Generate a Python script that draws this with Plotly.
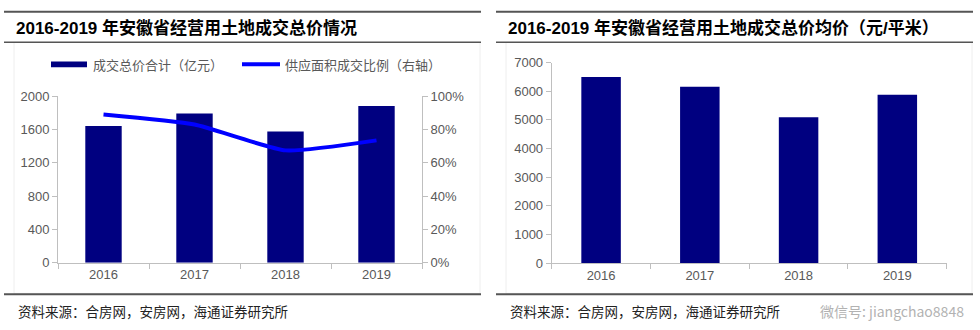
import plotly.graph_objects as go

years = ["2016", "2017", "2018", "2019"]
total_price = [1642, 1794, 1577, 1882]          # 成交总价合计（亿元）
supply_ratio = [0.89, 0.83, 0.675, 0.735]       # 供应面积成交比例（右轴）
avg_price = [6500, 6160, 5090, 5880]            # 成交总价均价（元/平米）

title_left = "2016-2019 年安徽省经营用土地成交总价情况"
title_right = "2016-2019 年安徽省经营用土地成交总价均价（元/平米）"
source_text = "资料来源：合房网，安房网，海通证券研究所"
legend_bar = "成交总价合计（亿元）"
legend_line = "供应面积成交比例（右轴）"
watermark = "微信号: jiangchao8848"

W, H = 980, 330
BAR = "#000080"
LINE = "#0000FF"
AX = "#BFBFBF"
TXT = "#595959"
CJK = "Noto Sans CJK SC"
TICKFONT = dict(family="Liberation Sans, Arial", size=13, color=TXT)

def px(x):
    return x / W

def py(y):
    return 1 - y / H

fig = go.Figure()

fig.add_trace(go.Bar(x=years, y=total_price, marker_color=BAR, marker_line_width=0,
                     xaxis="x", yaxis="y", showlegend=False))
fig.add_trace(go.Scatter(x=years, y=supply_ratio, mode="lines",
                         line=dict(color=LINE, width=4, shape="spline", smoothing=0.5),
                         xaxis="x", yaxis="y3", showlegend=False))
fig.add_trace(go.Bar(x=years, y=avg_price, marker_color=BAR, marker_line_width=0,
                     xaxis="x2", yaxis="y2", showlegend=False))

axis_common = dict(showline=True, linecolor=AX, linewidth=1, showgrid=False,
                   zeroline=False, ticks="outside", tickcolor=AX, ticklen=5,
                   tickfont=TICKFONT)

fig.update_layout(
    width=W, height=H,
    margin=dict(l=0, r=0, t=0, b=0),
    paper_bgcolor="white", plot_bgcolor="white",
    bargap=0.6,
    xaxis=dict(domain=[px(58), px(422)], anchor="y", type="category",
               tickson="boundaries", **axis_common),
    yaxis=dict(domain=[py(268), py(93.5)], anchor="x", range=[0, 2000], dtick=400,
               **axis_common),
    yaxis3=dict(overlaying="y", side="right", anchor="x", range=[0, 1], dtick=0.2,
                tickformat=".0%", **axis_common),
    xaxis2=dict(domain=[px(551.7), px(946.7)], anchor="y2", type="category",
                tickson="boundaries", **axis_common),
    yaxis2=dict(domain=[py(268.3), py(58.3)], anchor="x2", range=[0, 7000], dtick=1000,
                **axis_common),
)

shapes = []
annotations = []

for (x0, x1, tx, title) in [(4, 481, 14, title_left), (496, 973, 506, title_right)]:
    # faint frame around chart area
    shapes.append(dict(type="rect", xref="paper", yref="paper",
                       x0=px(x0 + 10), x1=px(x1 - 1), y0=py(300), y1=py(37),
                       line=dict(color="#EEEEEE", width=1), layer="below"))
    for yl in (5, 37, 301):
        shapes.append(dict(type="line", xref="paper", yref="paper",
                           x0=px(x0), x1=px(x1), y0=py(yl), y1=py(yl),
                           line=dict(color="#555555", width=2 if yl != 37 else 1.5)))
    annotations.append(dict(text="<b>" + title + "</b>", xref="paper", yref="paper",
                            x=px(tx), y=py(22), xanchor="left", yanchor="middle",
                            showarrow=False,
                            font=dict(family="Liberation Sans, " + CJK, size=17, color="#000000")))
    annotations.append(dict(text=source_text, xref="paper", yref="paper",
                            x=px(tx + 2), y=py(318), xanchor="left", yanchor="middle",
                            showarrow=False,
                            font=dict(family=CJK, size=13.5, color="#222222")))

# legend for left chart
shapes.append(dict(type="rect", xref="paper", yref="paper",
                   x0=px(51), x1=px(87), y0=py(63), y1=py(57),
                   fillcolor=BAR, line=dict(width=0)))
shapes.append(dict(type="line", xref="paper", yref="paper",
                   x0=px(242), x1=px(280), y0=py(60), y1=py(60),
                   line=dict(color=LINE, width=4)))
annotations.append(dict(text=legend_bar, xref="paper", yref="paper", x=px(91), y=py(60),
                        xanchor="left", yanchor="middle", showarrow=False,
                        font=dict(family=CJK, size=13, color=TXT)))
annotations.append(dict(text=legend_line, xref="paper", yref="paper", x=px(283), y=py(60),
                        xanchor="left", yanchor="middle", showarrow=False,
                        font=dict(family=CJK, size=13, color=TXT)))

# watermark (placed clear of the tick labels)
annotations.append(dict(text=watermark, xref="paper", yref="paper", x=px(966), y=py(318),
                        xanchor="right", yanchor="middle", showarrow=False, opacity=0.6,
                        font=dict(family=CJK, size=14, color="#808080")))

fig.update_layout(shapes=shapes, annotations=annotations)

fig.write_html("out.html")
